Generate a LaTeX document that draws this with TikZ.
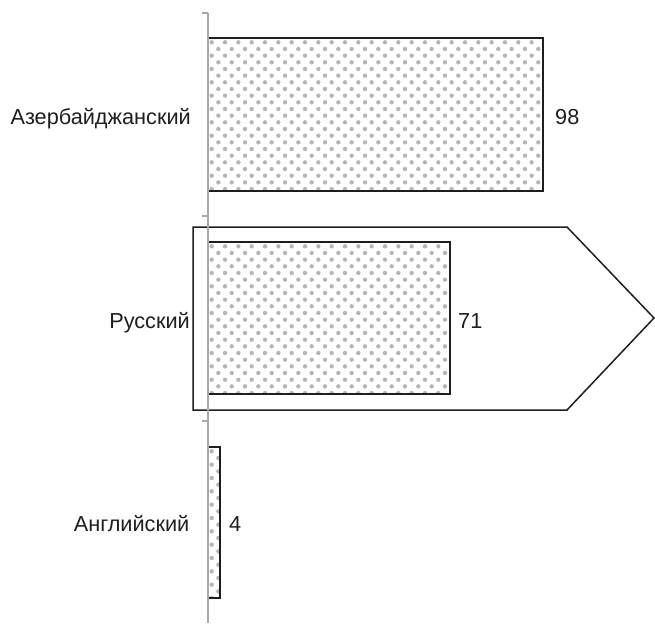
\documentclass[tikz,border=0pt]{standalone}
\usepackage{fontspec}
\setmainfont{Liberation Sans}
\usepackage{tikz}
\usetikzlibrary{calc}
\definecolor{dotgray}{HTML}{B6B6B6}
\definecolor{axisgray}{HTML}{A8A8A8}
\definecolor{inkgray}{HTML}{1E1E1E}
\tikzset{
    my-axis/.style={
        draw=axisgray, line width=1.4pt
    },
    my-bar/.style={
        draw=inkgray, line width=1.3pt
    },
    my-dot/.style={
        fill=dotgray
    },
    my-tag/.style={
        draw=inkgray, line width=1.5pt, line join=miter
    },
    my-label/.style={
        text=inkgray, inner sep=0pt, font=\fontsize{21.7}{26}\selectfont
    },
}
% DOTTED FILL OF ONE BAR: x1, y1, x2, y2
\newcommand{\bardots}[4]{%
    \begin{scope}
        \clip (#1,#2) rectangle (#3,#4);
        \foreach \j in {0,...,23}{
            \foreach \k in {0,...,25}{
                \pgfmathsetmacro{\dx}{#1+3.7+6.67*mod(\j,2)+13.33*\k}
                \pgfmathsetmacro{\dy}{#2+4.3+6.67*\j}
                \fill[my-dot] (\dx,\dy) circle[radius=2.2pt];
            }
        }
    \end{scope}
}

\begin{document}
\begin{tikzpicture}[x=1pt, y=-1pt]

        \useasboundingbox (0,0) rectangle (655,623);

        % TAG AROUND RUSSIAN
        \coordinate (TAGNW)  at (193,227);
        \coordinate (TAGNE)  at (567,227);
        \coordinate (TAGTIP) at (654,318);
        \coordinate (TAGSE)  at (567,410);
        \coordinate (TAGSW)  at (193,410);
        \draw[my-tag] (TAGNW) -- (TAGNE) -- (TAGTIP) -- (TAGSE) -- (TAGSW) -- cycle;

        % BAR 1, AZERBAIJANI
        \bardots{208}{38}{543}{191}
        \coordinate (BAR1NW) at (208,38);
        \coordinate (BAR1SE) at (543,191);
        \draw[my-bar] (BAR1NW) -| (BAR1SE) -- (BAR1SE -| BAR1NW);

        % BAR 2, RUSSIAN
        \bardots{208}{242}{450}{394}
        \coordinate (BAR2NW) at (208,242);
        \coordinate (BAR2SE) at (450,394);
        \draw[my-bar] (BAR2NW) -| (BAR2SE) -- (BAR2SE -| BAR2NW);

        % BAR 3, ENGLISH
        \bardots{208}{447}{220}{598}
        \coordinate (BAR3NW) at (208,447);
        \coordinate (BAR3SE) at (220,598);
        \draw[my-bar] (BAR3NW) -| (BAR3SE) -- (BAR3SE -| BAR3NW);

        % AXIS AND TICKS
        \coordinate (AXISTOP) at (208,13);
        \coordinate (AXISBOT) at (208,623);
        \draw[my-axis] (AXISTOP) -- (AXISBOT);
        \foreach \t in {13, 216, 421}
            \draw[my-axis] (202,\t) -- (208,\t);

        % CATEGORY LABELS
        \node[my-label, anchor=base east] (AZ) at (191,124.5) {Азербайджанский};
        \node[my-label, anchor=base east] (RU) at (190,328)   {Русский};
        \node[my-label, anchor=base east] (EN) at (189.5,531) {Английский};

        % VALUE LABELS
        \node[my-label, anchor=base west] (AZV) at ($(BAR1SE) + (12,-66.5)$) {98};
        \node[my-label, anchor=base west] (RUV) at ($(BAR2SE) + (8,-66)$)    {71};
        \node[my-label, anchor=base west] (ENV) at ($(BAR3SE) + (9,-67)$)    {4};

    \end{tikzpicture}
\end{document}
